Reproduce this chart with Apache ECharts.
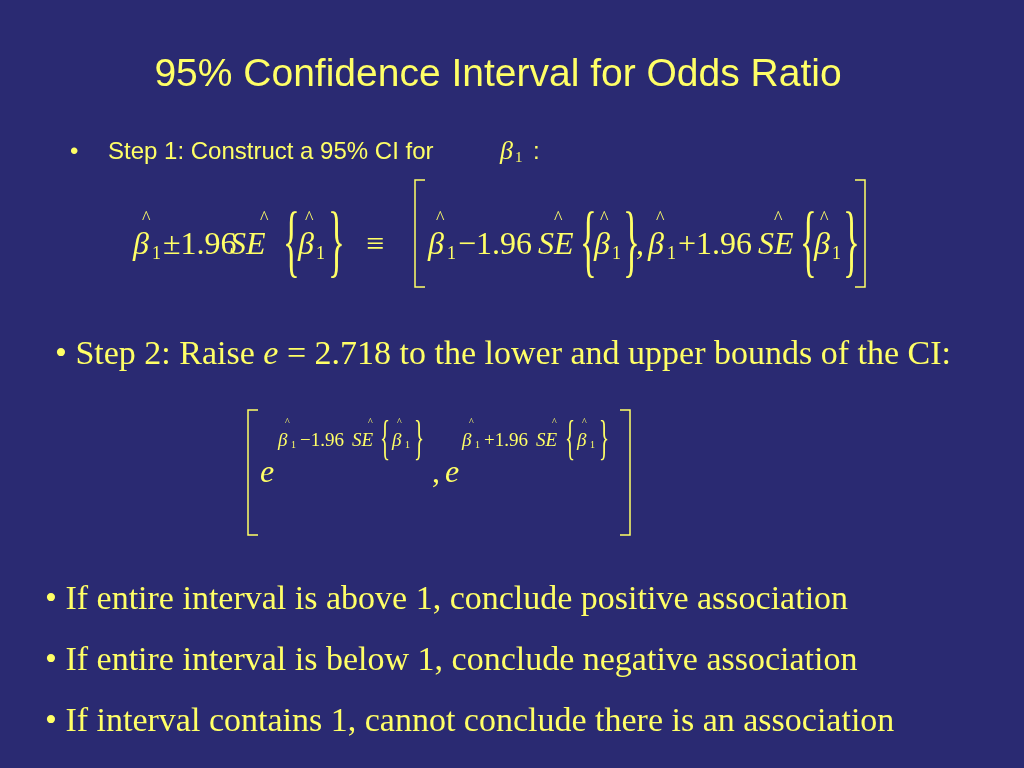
<!DOCTYPE html>
<html><head><meta charset="utf-8">
<script src="https://cdn.jsdelivr.net/npm/echarts@6/dist/echarts.min.js"></script>
<style>html,body{margin:0;padding:0;background:#2a2a72}#c{width:1024px;height:768px}</style>
</head><body><div id="c"></div>
<script>
var title = "95% Confidence Interval for Odds Ratio";
var step1 = "Step 1: Construct a 95% CI for ";
var step2a = "• Step 2: Raise ";
var step2b = " = 2.718 to the lower and upper bounds of the CI:";
var bullets = [
  "• If entire interval is above 1, conclude positive association",
  "• If entire interval is below 1, conclude negative association",
  "• If interval contains 1, cannot conclude there is an association"
];
// formula tokens: [x, text, kind]  kind: i=italic, s=subscript, n=normal, b=brace
var formula1 = [[133,"β","i"],[152,"1","s"],[163,"±1.96","n"],[230,"SE","i"],[283,"{","b"],[298,"β","i"],[316,"1","s"],[328,"}","b"],
  [366,"≡","n"],
  [428,"β","i"],[447,"1","s"],[458,"−1.96","n"],[538,"SE","i"],[580,"{","b"],[594,"β","i"],[612,"1","s"],[623,"}","b"],[636,",","n"],
  [648,"β","i"],[667,"1","s"],[678,"+1.96","n"],[758,"SE","i"],[800,"{","b"],[814,"β","i"],[832,"1","s"],[843,"}","b"]];
var hats1 = [142,260,305,436,554,600,656,774,820];
var formula2 = [[278,"β","i"],[291,"1","s"],[300,"−1.96","n"],[352,"SE","i"],[380,"{","b"],[392,"β","i"],[405,"1","s"],[414,"}","b"],
  [462,"β","i"],[475,"1","s"],[484,"+1.96","n"],[536,"SE","i"],[565,"{","b"],[577,"β","i"],[590,"1","s"],[599,"}","b"]];
var hats2 = [285,368,397,469,552,582];

var Y = "#ffff66";
var els = [];
function txt(x,y,s,font,extra,sy){ var st={text:s,x:x,y:y,font:font,fill:Y,textVerticalAlign:'middle'}; if(extra)Object.assign(st,extra);
  var e={type:'text',style:st}; if(sy){e.scaleY=sy;e.originX=x;e.originY=y;} els.push(e); }
function line(pts){ els.push({type:'polyline',shape:{points:pts},style:{stroke:Y,lineWidth:1.5,fill:null}}); }

txt(498,75,title,"39px 'Liberation Sans', Arial",{textAlign:'center'});
txt(70,152,"•","24px 'Liberation Sans'");
txt(108,152,step1,"24px 'Liberation Sans'");
txt(500,152,"β","italic 26px 'Liberation Serif'");
txt(515,158,"1","15px 'Liberation Serif'");
txt(533,152,":","24px 'Liberation Sans'");

function formula(tokens,hats,y,size,hy){
  tokens.forEach(function(t){
    var f, yy=y, sy=null;
    if(t[2]=="i") f="italic "+size+"px 'Liberation Serif'";
    else if(t[2]=="s"){ f=Math.round(size*0.55)+"px 'Liberation Serif'"; yy=y+size*0.25; }
    else if(t[2]=="b"){ f=Math.round(size*1.1)+"px 'Liberation Serif'"; sy=2.3; }
    else f=size+"px 'Liberation Serif'";
    txt(t[0],yy,t[1],f,null,sy);
  });
  hats.forEach(function(h){ txt(h,hy,"^",Math.round(size*0.55)+"px 'Liberation Serif'"); });
}
formula(formula1,hats1,246,32,219);
line([[425,180],[415,180],[415,287],[425,287]]);
line([[855,180],[865,180],[865,287],[855,287]]);

txt(55,355,step2a+"{i|e}"+step2b,"34px 'Liberation Serif'",{rich:{i:{font:"italic 34px 'Liberation Serif'",fill:Y}}});

line([[258,410],[248,410],[248,535],[258,535]]);
line([[620,410],[630,410],[630,535],[620,535]]);
txt(260,474,"e","italic 32px 'Liberation Serif'");
txt(432,474,",","32px 'Liberation Serif'");
txt(445,474,"e","italic 32px 'Liberation Serif'");
formula(formula2,hats2,441,19,422);

bullets.forEach(function(b,i){ txt(45,600+i*61,b,"34px 'Liberation Serif'"); });

var chart = echarts.init(document.getElementById('c'));
chart.setOption({backgroundColor:'#2a2a72', graphic:{elements:els}});
</script></body></html>
